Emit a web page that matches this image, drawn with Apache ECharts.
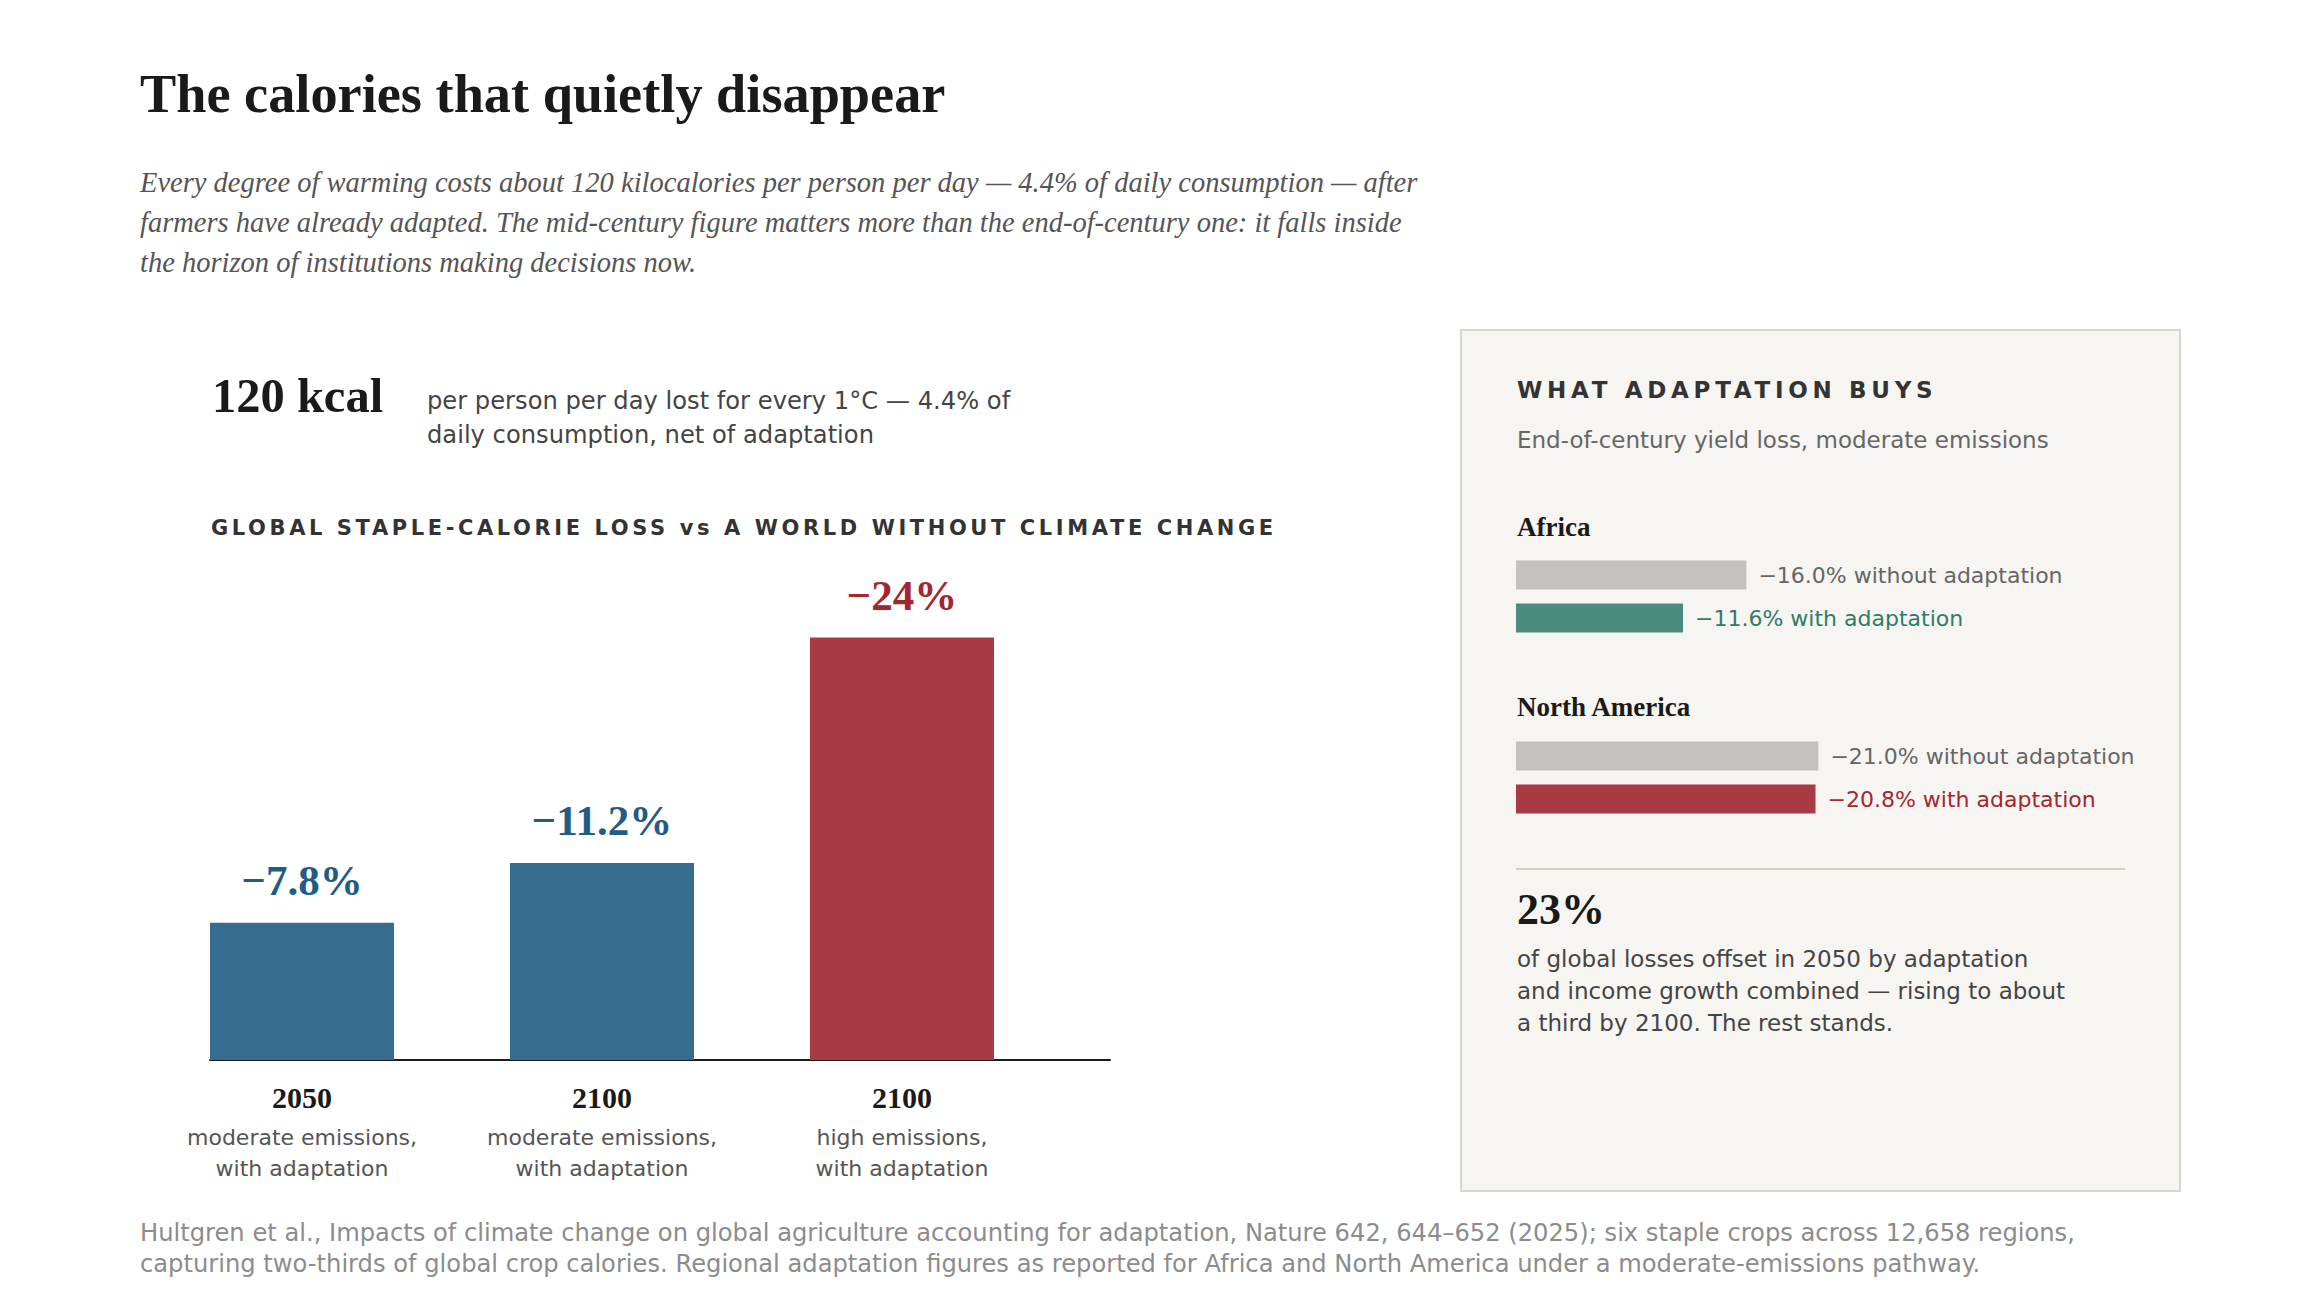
<!DOCTYPE html>
<html>
<head>
<meta charset="utf-8">
<title>The calories that quietly disappear</title>
<script src="https://cdn.jsdelivr.net/npm/echarts@6/dist/echarts.min.js"></script>
<style>
  html, body { margin: 0; padding: 0; background: #ffffff; }
  #chart { width: 2320px; height: 1300px; }
</style>
</head>
<body>
<div id="chart"></div>
<script>
// global staple-calorie loss, three scenarios
var scenarioYears = ['2050', '2100', '2100'];
var scenarioNotes = ['moderate emissions,\nwith adaptation', 'moderate emissions,\nwith adaptation', 'high emissions,\nwith adaptation'];
var calorieLoss = [7.8, 11.2, 24];

// regional end-of-century yield loss, moderate emissions
var regions = ['Africa', 'North America'];
var lossWithout = [16.0, 21.0];
var lossWith = [11.6, 20.8];

var SERIF = '"Liberation Serif", "DejaVu Serif", serif';
var SANS = '"DejaVu Sans", "Noto Sans", sans-serif';
var BLUE = '#366d8e', BLUE_TEXT = '#1f5c86';
var RED = '#a83a43', RED_TEXT = '#a4262f';
var TEAL = '#4a8b7e', TEAL_TEXT = '#2d7d69';
var GREY = '#c4c2bf', GREY_TEXT = '#666666';

function isHigh(i) { return scenarioNotes[i].indexOf('high') === 0; }

// text helper for the graphic layer
function txt(x, y, text, size, color, weight, family, extra) {
    var st = {
        text: text, x: x, y: y,
        fontSize: size, fontWeight: weight || 'normal', fontFamily: family || SANS,
        fill: color,
        align: 'left', verticalAlign: 'middle',
        textAlign: 'left', textVerticalAlign: 'middle'
    };
    for (var k in extra || {}) st[k] = extra[k];
    return { type: 'text', style: st, silent: true };
}

// letter spacing for the two small-caps headings (applied to svg text after render)
var spacedText = {
    'GLOBAL STAPLE-CALORIE LOSS vs A WORLD WITHOUT CLIMATE CHANGE': '3.6px',
    'WHAT ADAPTATION BUYS': '4.7px'
};

var regionGrids = [553.5, 734.5];
var regionColors = [[GREY, TEAL], [GREY, RED]];
var regionTextColors = [[GREY_TEXT, TEAL_TEXT], [GREY_TEXT, RED_TEXT]];

var grids = [
    { left: 152, top: 620, width: 900, height: 440 },   // main bars
    { left: 210, top: 1059, width: 900, height: 1 }     // baseline
];
var xAxes = [
    {
        gridIndex: 0, type: 'category', data: scenarioYears,
        axisLine: { show: false }, axisTick: { show: false },
        axisLabel: {
            margin: 13,
            formatter: function (v, i) {
                var lines = scenarioNotes[i].split('\n');
                return '{year|' + v + '}\n' + lines.map(function (l) { return '{note|' + l + '}'; }).join('\n');
            },
            rich: {
                year: { fontFamily: SERIF, fontWeight: 'bold', fontSize: 30, color: '#1a1a1a', lineHeight: 49 },
                note: { fontFamily: SANS, fontSize: 22, color: '#555555', lineHeight: 31 }
            }
        }
    },
    {
        gridIndex: 1, type: 'value', min: 0, max: 1,
        axisLine: { show: true, lineStyle: { color: '#1a1a1a', width: 2 } },
        axisTick: { show: false }, axisLabel: { show: false }, splitLine: { show: false }
    }
];
var yAxes = [
    { gridIndex: 0, type: 'value', min: 0, max: 25, show: false, splitLine: { show: false } },
    { gridIndex: 1, type: 'value', show: false, splitLine: { show: false } }
];

var series = [{
    type: 'bar', xAxisIndex: 0, yAxisIndex: 0,
    barWidth: 184,
    data: calorieLoss.map(function (v, i) {
        return {
            value: v,
            itemStyle: { color: isHigh(i) ? RED : BLUE },
            label: { color: isHigh(i) ? RED_TEXT : BLUE_TEXT }
        };
    }),
    label: {
        show: true, position: 'top', distance: 21,
        fontFamily: SERIF, fontWeight: 'bold', fontSize: 43,
        formatter: function (p) { return '\u2212' + p.value + '%'; }
    }
}];

regions.forEach(function (r, ri) {
    var gi = grids.length;
    grids.push({ left: 1516, top: regionGrids[ri], width: 576, height: 86 });
    xAxes.push({ gridIndex: gi, type: 'value', min: 0, max: 40, show: false, splitLine: { show: false } });
    yAxes.push({ gridIndex: gi, type: 'category', inverse: true, data: ['without adaptation', 'with adaptation'], show: false });
    series.push({
        type: 'bar', xAxisIndex: gi, yAxisIndex: gi,
        barWidth: 29,
        data: [lossWithout[ri], lossWith[ri]].map(function (v, k) {
            return {
                value: v,
                itemStyle: { color: regionColors[ri][k] },
                label: { color: regionTextColors[ri][k] }
            };
        }),
        label: {
            show: true, position: 'right', distance: 12,
            fontFamily: SANS, fontSize: 22,
            formatter: function (p) {
                return '\u2212' + p.value.toFixed(1) + '% ' + p.name;
            }
        }
    });
});

var graphics = [
    // side panel
    { type: 'rect', silent: true, z: -10,
      shape: { x: 1461, y: 330, width: 719, height: 861 },
      style: { fill: '#f7f5f2', stroke: '#d9d6d1', lineWidth: 2 } },
    { type: 'line', silent: true,
      shape: { x1: 1516, y1: 869, x2: 2125, y2: 869 },
      style: { stroke: '#d3cfc9', lineWidth: 2 } },

    txt(140, 94, 'The calories that quietly disappear', 54.3, '#1a1a1a', 'bold', SERIF),
    txt(140, 222, 'Every degree of warming costs about 120 kilocalories per person per day \u2014 4.4% of daily consumption \u2014 after\nfarmers have already adapted. The mid-century figure matters more than the end-of-century one: it falls inside\nthe horizon of institutions making decisions now.',
        28.5, '#555555', 'normal', SERIF, { fontStyle: 'italic', lineHeight: 40 }),

    txt(212, 395, '120 kcal', 48.5, '#1a1a1a', 'bold', SERIF),
    txt(427, 418, 'per person per day lost for every 1\u00b0C \u2014 4.4% of\ndaily consumption, net of adaptation',
        24.2, '#444444', 'normal', SANS, { lineHeight: 34 }),

    txt(211, 528, 'GLOBAL STAPLE-CALORIE LOSS vs A WORLD WITHOUT CLIMATE CHANGE', 21, '#333333', 'bold', SANS),

    txt(1517, 389.5, 'WHAT ADAPTATION BUYS', 23, '#333333', 'bold', SANS),
    txt(1517, 440, 'End-of-century yield loss, moderate emissions', 23, '#666666', 'normal', SANS),
    txt(1517, 527, regions[0], 27, '#1a1a1a', 'bold', SERIF),
    txt(1517, 707, regions[1], 27, '#1a1a1a', 'bold', SERIF),

    txt(1517, 909, '23%', 44, '#1a1a1a', 'bold', SERIF),
    txt(1517, 991, 'of global losses offset in 2050 by adaptation\nand income growth combined \u2014 rising to about\na third by 2100. The rest stands.',
        23, '#444444', 'normal', SANS, { lineHeight: 32 }),

    txt(140, 1248, 'Hultgren et al., Impacts of climate change on global agriculture accounting for adaptation, Nature 642, 644\u2013652 (2025); six staple crops across 12,658 regions,\ncapturing two-thirds of global crop calories. Regional adaptation figures as reported for Africa and North America under a moderate-emissions pathway.',
        24.2, '#8c8c8c', 'normal', SANS, { lineHeight: 31 })
];

var el = document.getElementById('chart');
var myChart = echarts.init(el, null, { renderer: 'svg' });

var option = {
    animation: false,
    backgroundColor: '#ffffff',
    tooltip: { show: false },
    grid: grids,
    xAxis: xAxes,
    yAxis: yAxes,
    series: series,
    graphic: graphics
};
myChart.setOption(option);

function spaceOut() {
    var nodes = el.querySelectorAll('text');
    for (var i = 0; i < nodes.length; i++) {
        var s = spacedText[nodes[i].textContent];
        if (s) nodes[i].style.letterSpacing = s;
    }
}
spaceOut();
myChart.on('finished', spaceOut);
</script>
</body>
</html>
